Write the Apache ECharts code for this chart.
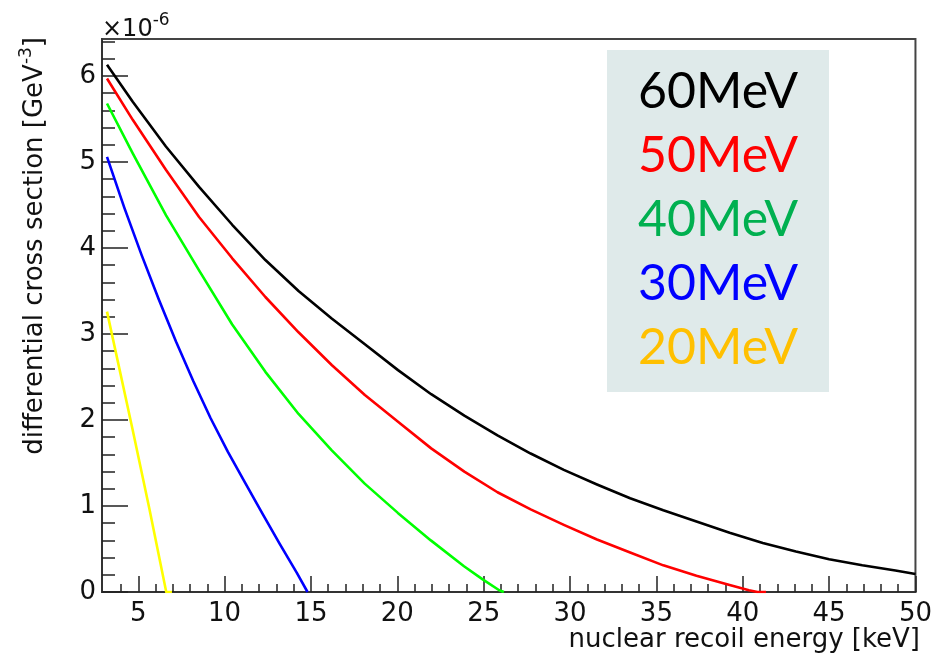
<!DOCTYPE html>
<html>
<head>
<meta charset="utf-8">
<script src="https://cdn.jsdelivr.net/npm/echarts@6/dist/echarts.min.js"></script>
<style>html,body{margin:0;padding:0;background:#fff}#c{width:935px;height:657px}</style>
</head>
<body>
<div id="c"></div>
<script>
// Energies in keV, cross sections in units of 1e-6 GeV^-3
const x60 = [3.19,4.68,6.60,8.52,10.44,12.36,14.28,16.20,18.12,20.04,21.96,23.88,25.80,27.72,29.64,31.56,33.48,35.40,37.32,39.24,41.16,43.08,45.00,46.92,48.84,50];
const y60 = [6.13,5.70,5.18,4.71,4.27,3.86,3.50,3.18,2.88,2.58,2.30,2.05,1.82,1.61,1.42,1.25,1.09,0.95,0.82,0.69,0.57,0.47,0.38,0.31,0.25,0.21];
const x50 = [3.19,4.68,6.60,8.52,10.44,12.36,14.28,16.20,18.12,20.04,21.96,23.88,25.80,27.72,29.64,31.56,33.48,35.40,37.32,39.24,40.36,40.85,41.35];
const y50 = [5.97,5.49,4.91,4.36,3.88,3.43,3.02,2.64,2.29,1.98,1.67,1.40,1.16,0.96,0.78,0.61,0.46,0.31,0.19,0.08,0.02,0,0];
const x40 = [3.19,4.68,6.61,8.52,10.44,12.36,14.28,16.19,18.11,20.03,21.94,23.86,24.92,25.9,26.17];
const y40 = [5.68,5.10,4.38,3.74,3.11,2.56,2.07,1.65,1.26,0.92,0.60,0.30,0.15,0.02,0];
const x30 = [3.19,4.19,5.19,6.19,7.19,8.19,9.19,10.19,11.19,12.19,13.19,14.19,14.8];
const y30 = [5.06,4.47,3.92,3.40,2.91,2.45,2.02,1.63,1.27,0.91,0.56,0.22,0];
const x20 = [3.19,3.73,4.68,5.64,6.62,6.95];
const y20 = [3.26,2.76,1.88,0.97,0,0];

const xMajor = [5,10,15,20,25,30,35,40,45,50];
const yMajor = [0,1,2,3,4,5,6];
const xMinor = []; for (let v = 4; v <= 49; v++) xMinor.push(v);
const yMinor = []; for (let k = 1; k <= 32; k++) yMinor.push(+(k*0.2).toFixed(1));

const legendNames = ['60MeV','50MeV','40MeV','30MeV','20MeV'];
const legendColors = ['#000000','#ff0000','#00b050','#0000ff','#ffc000'];
const lineColors = ['#000000','#ff0000','#00ff00','#0000ff','#ffff00'];

function pairs(xs, ys){ return xs.map((x,i)=>[x, ys[i]]); }
const seriesData = [pairs(x60,y60), pairs(x50,y50), pairs(x40,y40), pairs(x30,y30), pairs(x20,y20)];

const FONT = 'DejaVu Sans';
const chart = echarts.init(document.getElementById('c'), null, {renderer:'canvas'});

const grid = {left:102, top:39, right:14, bottom:65, show:true, borderColor:'#444', borderWidth:2, backgroundColor:'#fff'};

const option = {
  animation:false,
  backgroundColor:'#fff',
  grid: grid,
  xAxis: [
    {type:'value', min:2.9, max:50, position:'bottom',
     axisLine:{show:true, lineStyle:{color:'#333', width:2}},
     axisTick:{show:true, inside:true, length:16, customValues:xMajor, lineStyle:{color:'#222', width:1.5}},
     axisLabel:{show:true, customValues:xMajor, margin:9, fontFamily:FONT, fontSize:26, color:'#111'},
     splitLine:{show:false}},
    {type:'value', min:2.9, max:50, position:'bottom',
     axisLine:{show:false},
     axisTick:{show:true, inside:true, length:8, customValues:xMinor, lineStyle:{color:'#222', width:1.5}},
     axisLabel:{show:false},
     splitLine:{show:false}}
  ],
  yAxis: [
    {type:'value', min:0, max:6.43, position:'left',
     axisLine:{show:true, lineStyle:{color:'#333', width:2}},
     axisTick:{show:true, inside:true, length:26, customValues:yMajor, lineStyle:{color:'#222', width:1.5}},
     axisLabel:{show:true, customValues:yMajor, margin:6, fontFamily:FONT, fontSize:26, color:'#111'},
     splitLine:{show:false}},
    {type:'value', min:0, max:6.43, position:'left',
     axisLine:{show:false},
     axisTick:{show:true, inside:true, length:13, customValues:yMinor, lineStyle:{color:'#222', width:1.5}},
     axisLabel:{show:false},
     splitLine:{show:false}}
  ],
  series: seriesData.map((d,i)=>({
    type:'line', name:legendNames[i], data:d, xAxisIndex:0, yAxisIndex:0,
    showSymbol:false, symbol:'none', smooth:false,
    lineStyle:{color:lineColors[i], width:2.6, join:'round'}, z:3
  })),
  graphic: [
    {type:'text', x:102, y:42,
     style:{text:'{b|×10}{s|-6}', fill:'#111', align:'left', verticalAlign:'bottom',
            rich:{b:{fontFamily:FONT, fontSize:24, fill:'#111', verticalAlign:'bottom', lineHeight:30},
                  s:{fontFamily:FONT, fontSize:17, fill:'#111', verticalAlign:'top', lineHeight:30, padding:[0,0,12,0]}}}},
    {type:'text', x:33, y:37, rotation:Math.PI/2,
     style:{text:'{b|differential cross section [GeV}{s|-3}{b|]}', align:'right', verticalAlign:'middle',
            rich:{b:{fontFamily:FONT, fontSize:26, fill:'#111', verticalAlign:'bottom', lineHeight:30},
                  s:{fontFamily:FONT, fontSize:17, fill:'#111', verticalAlign:'top', lineHeight:30, padding:[0,0,12,0]}}}},
    {type:'text', x:920, y:640,
     style:{text:'nuclear recoil energy [keV]', font:'26px "DejaVu Sans"', fill:'#111', align:'right', verticalAlign:'middle'}},
    {type:'rect', shape:{x:607, y:50, width:222, height:342}, style:{fill:'#dfeaea'}, z:10},
  ].concat(legendNames.map((n,i)=>({
    type:'text', x:638, y:92 + i*64, z:11,
    style:{text:n, font:'50px Lato', fill:legendColors[i], align:'left', verticalAlign:'middle'}
  })))
};
chart.setOption(option);
</script>
</body>
</html>
